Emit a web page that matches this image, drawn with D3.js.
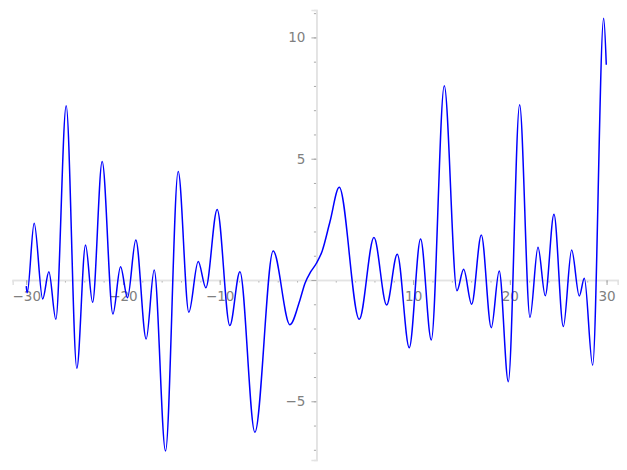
<!DOCTYPE html>
<html>
<head>
<meta charset="utf-8">
<script src="https://cdn.jsdelivr.net/npm/d3@7"></script>
<style>
  html, body { margin: 0; padding: 0; background: #ffffff; }
  svg { display: block; }
</style>
</head>
<body>
<svg id="chart" width="627" height="470"></svg>
<script>
// Curve samples (extrema and shape points)
const xValues = [-30.0, -29.9, -29.18, -28.3, -27.66, -26.94, -25.87, -24.77, -23.87, -23.14,
  -22.15, -21.04, -20.25, -19.53, -18.67, -17.6, -16.77, -15.6, -14.29, -13.19,
  -12.22, -11.43, -10.26, -8.95, -7.91, -6.36, -4.47, -2.74, -1.7, -1.19, -0.6,
  0.0, 0.6, 1.4, 2.36, 4.43, 5.95, 7.26, 8.36, 9.6, 10.77,
  11.88, 13.22, 14.53, 15.22, 16.05, 17.05, 18.08, 18.9, 19.84, 21.01,
  22.08, 22.91, 23.66, 24.56, 25.53, 26.39, 27.18, 27.7, 28.56, 29.7, 29.97];
const yValues = [-0.25, -0.53, 2.34, -0.78, 0.34, -1.62, 7.18, -3.64, 1.44, -0.92,
  4.88, -1.40, 0.55, -0.73, 1.65, -2.43, 0.41, -7.05, 4.47, -1.33,
  0.76, -0.32, 2.91, -1.88, 0.34, -6.28, 1.20, -1.84, -0.82, -0.14, 0.33,
  0.69, 1.2, 2.4, 3.82, -1.62, 1.75, -1.03, 1.06, -2.79, 1.69,
  -2.47, 8.01, -0.44, 0.44, -1.0, 1.86, -1.97, 0.37, -4.19, 7.22,
  -1.54, 1.35, -0.65, 2.71, -1.92, 1.24, -0.66, 0.07, -3.51, 10.79, 8.87];

// Tick values
const xMajorTicks = [-30, -20, -10, 0, 10, 20, 30];
const xMinorTicks = d3.range(-30, 31, 2);
const yMajorTicks = [-5, 0, 5, 10];
const yMinorTicks = d3.range(-7, 12, 1);

const svg = d3.select("#chart");
const x = d3.scaleLinear().domain([-31.4, 31.15]).range([12.7, 617.7]);
const y = d3.scaleLinear().domain([-7.42, 11.13]).range([460, 10]);

const fmt = d => d === 0 ? "" : d3.format("d")(d);
const axisColor = "#e3e3e3";
const tickColor = "#a8a8a8";
const labelColor = "#808080";

// x axis (centered at y=0)
const gx = svg.append("g").attr("transform", `translate(0,${y(0)})`);
gx.append("g").call(d3.axisBottom(x).tickValues(xMinorTicks).tickSize(2.5).tickFormat(""));
gx.append("g").call(d3.axisBottom(x).tickValues(xMajorTicks).tickSize(5).tickPadding(6).tickFormat(fmt));

// y axis (centered at x=0)
const gy = svg.append("g").attr("transform", `translate(${x(0)},0)`);
gy.append("g").call(d3.axisLeft(y).tickValues(yMinorTicks).tickSize(2.5).tickFormat(""));
gy.append("g").call(d3.axisLeft(y).tickValues(yMajorTicks).tickSize(5).tickPadding(6).tickFormat(fmt));

svg.selectAll(".domain").attr("stroke", axisColor).attr("stroke-width", 1.6);
svg.selectAll(".tick line").attr("stroke", tickColor).attr("stroke-width", 1);
svg.selectAll(".tick text")
  .attr("fill", labelColor)
  .style("font-family", "DejaVu Sans, sans-serif")
  .style("font-size", "13.5px");

// curve
const pts = xValues.map((v, i) => [v, yValues[i]]);
const line = d3.line().x(d => x(d[0])).y(d => y(d[1])).curve(d3.curveMonotoneX);
svg.append("path")
  .datum(pts)
  .attr("d", line)
  .attr("fill", "none")
  .attr("stroke", "#0000ff")
  .attr("stroke-width", 1.5);
</script>
</body>
</html>
